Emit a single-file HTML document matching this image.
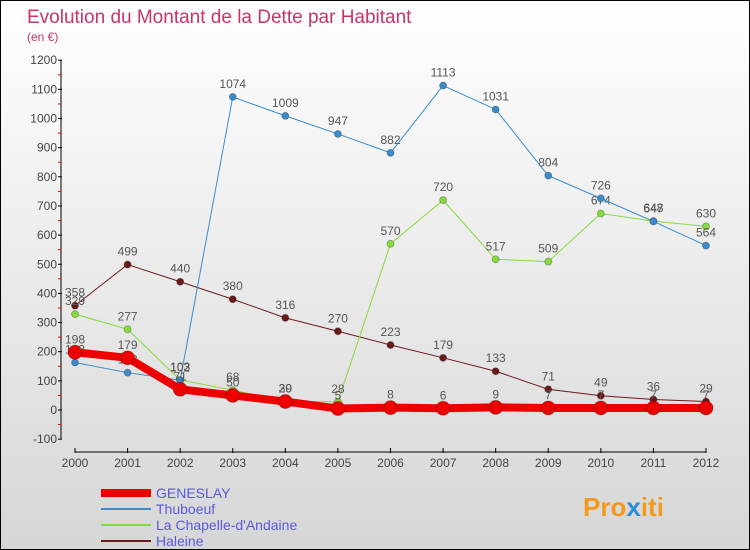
<!DOCTYPE html>
<html><head><meta charset="utf-8"><style>
body{margin:0}
#c{width:750px;height:550px;position:relative;box-sizing:border-box;border:1px solid #000;background:linear-gradient(#fff,#d6d6d6);font-family:"Liberation Sans",sans-serif;overflow:hidden}
</style></head><body>
<div id="c">
<svg id="s" width="748" height="548" style="position:absolute;left:0;top:0">
<text x="26" y="22" font-size="19" fill="#c8336a">Evolution du Montant de la Dette par Habitant</text>
<text x="26" y="40" font-size="12" fill="#c8336a">(en €)</text>
<text x="582" y="515" font-size="26" font-weight="bold" fill="#f39a1e">Pro<tspan fill="#2a8fd6">x</tspan>iti</text>
</svg>
</div>
<script>
const years=[2000,2001,2002,2003,2004,2005,2006,2007,2008,2009,2010,2011,2012];
const yTicks=[-100,0,100,200,300,400,500,600,700,800,900,1000,1100,1200];
const geneslay=[198,179,71,50,29,5,8,6,9,7,7,7,7];
const thuboeuf=[163,128,102,1074,1009,947,882,1113,1031,804,726,647,564];
const chapelle=[329,277,103,68,30,28,570,720,517,509,674,648,630];
const haleine=[358,499,440,380,316,270,223,179,133,71,49,36,29];
const seriesNames=["GENESLAY","Thuboeuf","La Chapelle-d'Andaine","Haleine"];
const NS="http://www.w3.org/2000/svg";
const s=document.getElementById('s');
const X=i=>74+i*(705-74)/12;
const Y=v=>409-v*29.15/100;
function el(t,a,p){const e=document.createElementNS(NS,t);for(const k in a)e.setAttribute(k,a[k]);(p||s).appendChild(e);return e;}
const ax=el('line',{x1:60,y1:Y(1200),x2:60,y2:Y(-100),stroke:'#000'});


const xa=el('line',{x1:X(0),y1:451,x2:X(12),y2:451,stroke:'#000'});


yTicks.forEach(v=>{
 el('line',{x1:57,y1:Y(v),x2:61,y2:Y(v),stroke:'#000'});
 if(v<1200) el('line',{x1:57,y1:Y(v+50),x2:60,y2:Y(v+50),stroke:'#e00'});
 const t=el('text',{x:56,y:Y(v)+4,'font-size':12,fill:'#444','text-anchor':'end'});
 t.textContent=v;
 
 
});
years.forEach((y,i)=>{
 el('line',{x1:X(i),y1:447,x2:X(i),y2:452,stroke:'#000'});
 const t=el('text',{x:X(i),y:466,'font-size':12,fill:'#444','text-anchor':'middle'});
 t.textContent=y;
 
 
});
function draw(d,col,w,r,name){
 const g=el('g',{});
 
 
 el('polyline',{points:d.map((v,i)=>X(i)+','+Y(v)).join(' '),fill:'none',stroke:col,'stroke-width':w,'stroke-linejoin':'round'},g);
 d.forEach((v,i)=>{
  const c=el('circle',{cx:X(i),cy:Y(v),r:r,fill:col,stroke:'rgba(0,0,0,0.25)'},g);
  
  
  const t=el('text',{x:X(i),y:Y(v)-9,'font-size':12,fill:'#555','text-anchor':'middle'},g);
  t.textContent=v;
 });
}
draw(haleine,'#6b1a1a',1,3.5,'series-haleine');
draw(chapelle,'#86dc3c',1,3.5,'series-chapelle');
draw(thuboeuf,'#3a8ccc',1,3.5,'series-thuboeuf');
draw(geneslay,'#ee0000',8,7,'series-geneslay');
const cols=['#ee0000','#3a8ccc','#86dc3c','#6b1a1a'];
seriesNames.forEach((n,i)=>{
 const y=492+i*16;
 const l=el('line',{x1:100,y1:y,x2:150,y2:y,stroke:cols[i],'stroke-width':i==0?8:2});
 
 
 const t=el('text',{x:155,y:y+5,'font-size':14,fill:'#5a5adc'});
 t.textContent=n;
 
 
});
</script>
</body></html>
